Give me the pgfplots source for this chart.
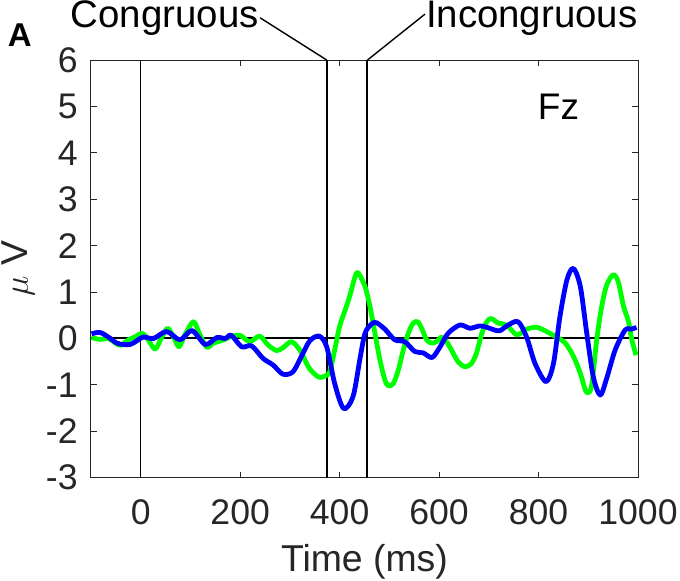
\documentclass[border=0pt]{standalone}
\usepackage{pgfplots}
\pgfplotsset{compat=1.18}
\usepackage{fontspec}
\setmainfont{Liberation Sans}
\pgfplotstableread{
x y
-99 0.02
-82 -0.02
-65 0.00
-52 -0.09
-40 -0.15
-25 -0.03
-12 0.03
3 0.11
15 -0.03
29 -0.23
41 0.00
54 0.22
66 0.03
77 -0.18
89 0.08
106 0.36
119 0.08
133 -0.19
146 -0.10
162 -0.05
179 0.03
199 0.07
219 -0.07
239 0.05
256 -0.14
273 -0.26
286 -0.20
303 -0.07
320 -0.25
337 -0.61
350 -0.77
360 -0.84
370 -0.81
380 -0.72
390 -0.25
400 0.26
411 0.61
421 0.94
431 1.33
437 1.42
451 1.12
461 0.69
471 0.11
481 -0.46
491 -0.89
498 -1.02
508 -0.97
518 -0.68
528 -0.25
538 0.11
548 0.33
557 0.36
565 0.22
575 -0.03
585 -0.10
595 -0.07
605 0.03
615 -0.07
625 -0.25
638 -0.50
652 -0.61
665 -0.54
675 -0.32
686 0.11
696 0.36
705 0.43
719 0.33
736 0.29
756 0.08
776 0.20
796 0.24
816 0.15
836 0.03
853 -0.09
870 -0.38
884 -0.75
894 -1.11
900 -1.17
907 -1.00
917 -0.03
927 0.69
937 1.15
950 1.37
960 1.23
971 0.69
981 0.36
987 0.00
996 -0.36
}\greendata
\pgfplotstableread{
x y
-99 0.10
-82 0.13
-65 0.03
-48 -0.10
-35 -0.13
-22 -0.13
-12 -0.08
5 0.03
26 0.00
52 0.15
79 -0.03
103 0.17
130 -0.13
153 0.02
170 0.00
182 0.07
203 -0.18
223 -0.16
246 -0.43
266 -0.57
286 -0.77
306 -0.72
323 -0.39
340 -0.05
359 0.05
374 -0.18
390 -0.97
408 -1.51
427 -1.25
441 -0.43
451 0.11
464 0.31
474 0.34
491 0.20
511 -0.03
531 -0.07
551 -0.28
568 -0.31
586 -0.41
602 -0.18
618 0.11
642 0.29
662 0.22
682 0.27
699 0.23
712 0.18
723 0.17
739 0.29
759 0.36
776 0.03
793 -0.54
815 -0.93
830 -0.54
843 0.47
857 1.26
870 1.51
884 1.12
897 0.11
910 -0.82
924 -1.22
937 -0.86
954 -0.25
974 0.18
987 0.20
997 0.24
}\bluedata
\definecolor{axgray}{gray}{0.15}
\begin{document}
\begin{tikzpicture}
\useasboundingbox (-45.5pt,-51.65pt) rectangle (294.5pt,238.85pt);
\begin{axis}[
  at={(0pt,0pt)}, anchor=south west,
  width=273.5pt, height=208.85pt, scale only axis,
  xmin=-100, xmax=1000, ymin=-3, ymax=6,
  xtick={0,200,...,1000}, ytick={-3,-2,...,6},
  tick align=inside, major tick length=3pt,
  axis line style={axgray, line width=0.5pt},
  every tick/.style={axgray, line width=0.5pt},
  /pgf/number format/assume math mode=true,
  /pgf/number format/1000 sep={},
  every tick label/.append style={font=\fontsize{17.8}{21}\selectfont, text=axgray},
  xticklabel style={anchor=north, inner sep=0pt, yshift=-11pt},
  yticklabel style={anchor=east, inner sep=0pt, xshift=-6.5pt},
  xlabel={Time (ms)},
  xlabel style={at={(axis description cs:0.5,-0.158)}, anchor=north, inner sep=0pt, font=\fontsize{18.7}{22}\selectfont, text=axgray},
  ylabel={$\mu$ V},
  ylabel style={at={(axis description cs:-0.1024,0.5)}, anchor=south, inner sep=0pt, font=\fontsize{18.7}{22}\selectfont, text=axgray},
  clip=false,
]
\addplot[black, line width=1pt] coordinates {(-100,0) (1000,0)};
\addplot[black, line width=0.65pt] coordinates {(0,-3) (0,6)};
\addplot[black, line width=1pt] coordinates {(374,-3) (374,6)};
\addplot[black, line width=1pt] coordinates {(456,-3) (456,6)};
\addplot[color={rgb,1:red,0;green,1;blue,0}, line width=2.4pt, smooth, line join=round] table {\greendata};
\addplot[color={rgb,1:red,0;green,0;blue,1}, line width=2.4pt, smooth, line join=round] table {\bluedata};
\node[anchor=west, inner sep=0pt, font=\fontsize{18.5}{22}\selectfont] at (axis cs:798,5) {Fz};
\draw[black, line width=0.7pt] (axis cs:240,6.91) -- (axis cs:374,6);
\draw[black, line width=0.7pt] (axis cs:571.7,6.99) -- (axis cs:456,6);
\node[anchor=base east, inner sep=0pt, font=\fontsize{19.2}{22}\selectfont] at (axis cs:238,6.69) {Congruous};
\node[anchor=base west, inner sep=0pt, font=\fontsize{19.2}{22}\selectfont] at (axis cs:573,6.69) {Incongruous};
\node[anchor=base west, inner sep=0pt, font=\bfseries\fontsize{16.5}{20}\selectfont] at (axis cs:-268,6.30) {A};
\end{axis}
\end{tikzpicture}
\end{document}
